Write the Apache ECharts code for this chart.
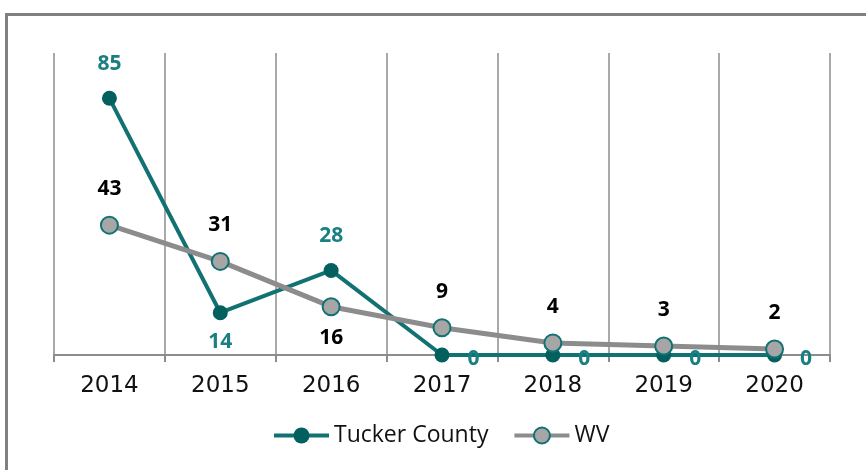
<!DOCTYPE html>
<html>
<head>
<meta charset="utf-8">
<script src="https://cdn.jsdelivr.net/npm/echarts@6/dist/echarts.min.js"></script>
<style>
html,body{margin:0;padding:0;background:#fff;}
#chart{width:866px;height:470px;}
</style>
</head>
<body>
<div id="chart"></div>
<script>
const years = ['2014','2015','2016','2017','2018','2019','2020'];
const tuckerCounty = [85, 14, 28, 0, 0, 0, 0];
const wv = [43, 31, 16, 9, 4, 3, 2];
const tuckerLabelPos = ['top','bottom','top','right','right','right','right'];
const wvLabelPos = ['top','top','bottom','top','top','top','top'];

const teal = '#127273';
const tealDark = '#03605F';
const tealLabel = '#1A7F80';
const gray = '#8C8C8C';
const font = '"Open Sans", sans-serif';

const chart = echarts.init(document.getElementById('chart'), null, {renderer:'canvas'});

function labelFor(pos, color) {
  if (pos === 'right') {
    return {show:true, position:'right', distance:18, offset:[0,4], color:color, fontFamily:font, fontWeight:'bold', fontSize:21};
  }
  return {show:true, position:pos, distance: pos==='top'?16:11, color:color, fontFamily:font, fontWeight:'bold', fontSize:21};
}

chart.setOption({
  animation:false,
  backgroundColor:'#fff',
  graphic:[{
    type:'rect', left:4, top:12, shape:{width:1000, height:1000},
    style:{fill:'none', stroke:'#808080', lineWidth:3}, silent:true, z:-10
  }],
  grid:{left:54, right:36, top:53, bottom:115, containLabel:false},
  legend:{
    left:267, top:419,
    itemWidth:55, itemHeight:20, itemGap:24,
    lineStyle:{width:4},
    textStyle:{fontFamily:font, fontSize:23, color:'#111'},
    data:['Tucker County','WV']
  },
  xAxis:{
    type:'category', data:years, boundaryGap:true,
    axisLine:{lineStyle:{color:gray, width:2}},
    axisTick:{show:true, length:7, lineStyle:{color:gray, width:2}, alignWithLabel:false},
    splitLine:{show:true, lineStyle:{color:gray, width:1.5}},
    axisLabel:{margin:20, fontFamily:'"DejaVu Sans", sans-serif', fontSize:23, color:'#111'}
  },
  yAxis:{
    type:'value', min:0, max:100, show:false,
    splitLine:{show:false}
  },
  series:[
    {
      name:'Tucker County', type:'line', z:2,
      data: tuckerCounty.map((v,i)=>({value:v, label:labelFor(tuckerLabelPos[i], tealLabel)})),
      symbol:'circle', symbolSize:15,
      lineStyle:{color:teal, width:4},
      itemStyle:{color:tealDark, borderColor:tealDark, borderWidth:0},
      label:{show:true}
    },
    {
      name:'WV', type:'line', z:3,
      data: wv.map((v,i)=>({value:v, label:labelFor(wvLabelPos[i], '#000')})),
      symbol:'circle', symbolSize:17,
      lineStyle:{color:gray, width:5},
      itemStyle:{color:'#A6A6A6', borderColor:teal, borderWidth:2},
      label:{show:true}
    }
  ]
});
</script>
</body>
</html>
